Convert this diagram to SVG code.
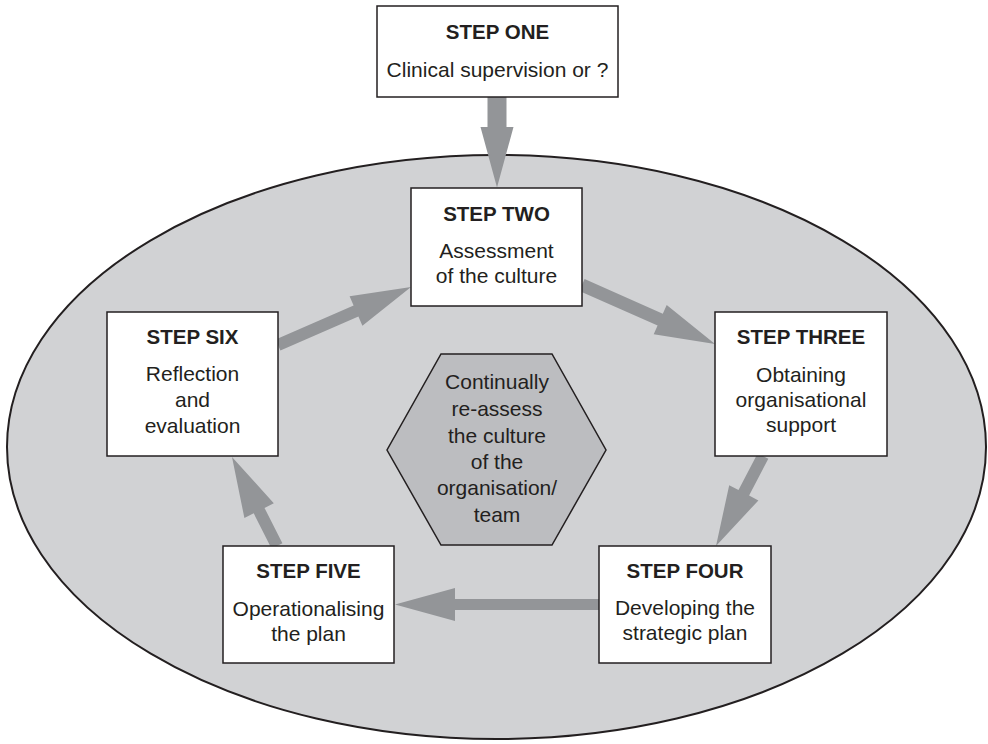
<svg xmlns="http://www.w3.org/2000/svg" width="988" height="744" viewBox="0 0 988 744">
  <style>
    .box { fill: #ffffff; stroke: #231f20; stroke-width: 1.5; }
    .arrow { fill: #939598; stroke: none; }
    .title { font-family: "Liberation Sans", Arial, sans-serif; font-size: 20.5px; font-weight: bold; fill: #231f20; text-anchor: middle; }
    .body { font-family: "Liberation Sans", Arial, sans-serif; font-size: 21px; fill: #231f20; text-anchor: middle; }
  </style>
  <rect width="988" height="744" fill="#ffffff"/>

  <!-- organisation boundary -->
  <ellipse id="organisation" cx="496.5" cy="447" rx="489.5" ry="292" fill="#d1d2d4" stroke="#231f20" stroke-width="2"/>

  <!-- connectors -->
  <g id="connectors">
    <polygon class="arrow" points="487.5,97 487.5,127 480.5,127 497,187.5 513.5,127 506.5,127 506.5,97"/>
    <polygon class="arrow" points="584.6,279.1 662.8,313.8 666.7,305.1 715,344 653.7,334.3 657.6,325.6 579.4,290.9"/>
    <polygon class="arrow" points="757.7,453.2 738.5,490.0 729.2,485.2 716,546 758.4,500.4 749.1,495.6 768.3,458.8"/>
    <polygon class="arrow" points="600,599 455,599 455,588 395,604.5 455,621 455,610 600,610"/>
    <polygon class="arrow" points="282.4,543.3 264.5,507.9 273.8,503.2 232,457 244.4,518.0 253.7,513.3 271.6,548.7"/>
    <polygon class="arrow" points="275.6,339.5 353.6,305.5 349.6,296.3 411,287 362.4,325.7 358.4,316.5 280.4,350.5"/>
  </g>

  <!-- centre hexagon -->
  <g id="reassess">
    <polygon points="441,354 552,354 606,450 552,545 441,545 387,450" fill="#bcbdc0" stroke="#231f20" stroke-width="1.5"/>
    <text class="body" x="497" y="389">Continually</text>
    <text class="body" x="497" y="416">re-assess</text>
    <text class="body" x="497" y="443">the culture</text>
    <text class="body" x="497" y="469">of the</text>
    <text class="body" x="497" y="495">organisation/</text>
    <text class="body" x="497" y="522">team</text>
  </g>

  <g id="step-one">
    <rect class="box" x="377" y="6" width="241" height="91"/>
    <text class="title" x="497.5" y="39">STEP ONE</text>
    <text class="body" x="497.5" y="77">Clinical supervision or ?</text>
  </g>

  <g id="step-two">
    <rect class="box" x="411" y="188" width="171" height="118"/>
    <text class="title" x="496.5" y="221">STEP TWO</text>
    <text class="body" x="496.5" y="258">Assessment</text>
    <text class="body" x="496.5" y="283">of the culture</text>
  </g>

  <g id="step-three">
    <rect class="box" x="715" y="312" width="172" height="144"/>
    <text class="title" x="801" y="344">STEP THREE</text>
    <text class="body" x="801" y="382">Obtaining</text>
    <text class="body" x="801" y="407">organisational</text>
    <text class="body" x="801" y="432">support</text>
  </g>

  <g id="step-four">
    <rect class="box" x="599" y="546" width="172" height="117"/>
    <text class="title" x="685" y="578">STEP FOUR</text>
    <text class="body" x="685" y="615">Developing the</text>
    <text class="body" x="685" y="640">strategic plan</text>
  </g>

  <g id="step-five">
    <rect class="box" x="223" y="546" width="171" height="117"/>
    <text class="title" x="308.5" y="578">STEP FIVE</text>
    <text class="body" x="308.5" y="616">Operationalising</text>
    <text class="body" x="308.5" y="641">the plan</text>
  </g>

  <g id="step-six">
    <rect class="box" x="107" y="312" width="171" height="144"/>
    <text class="title" x="192.5" y="344">STEP SIX</text>
    <text class="body" x="192.5" y="381">Reflection</text>
    <text class="body" x="192.5" y="407">and</text>
    <text class="body" x="192.5" y="433">evaluation</text>
  </g>
</svg>
